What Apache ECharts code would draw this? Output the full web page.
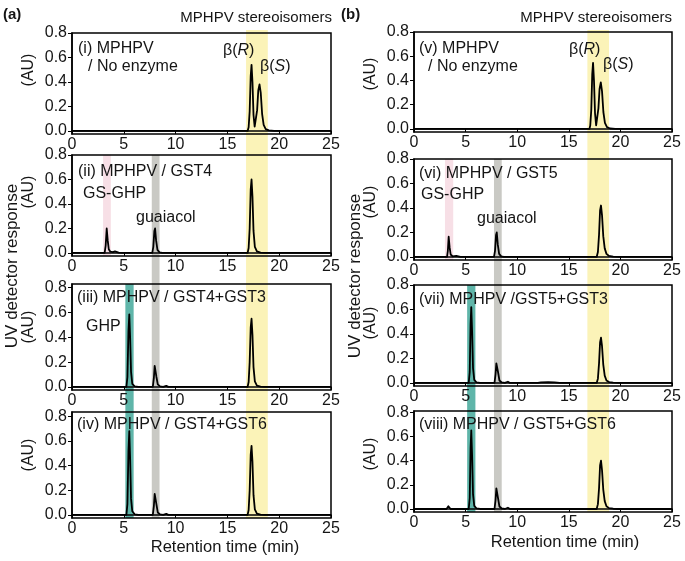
<!DOCTYPE html>
<html><head><meta charset="utf-8">
<script src="https://cdn.jsdelivr.net/npm/echarts@6/dist/echarts.min.js"></script>
<style>html,body{margin:0;padding:0;background:#fff}#c{width:685px;height:561px}</style>
</head><body><div id="c"></div>
<script>
// ---- data: retention time (min), UV response (AU) ----
const traceI = [[0,0],[3.2,0],[3.3,0.008],[3.45,0],[13.2,0],[13.35,0.005],[13.5,0],[16.95,0],[17.05,0.03],[17.15,0.16],[17.25,0.45],[17.33,0.54],[17.42,0.4],[17.52,0.13],[17.63,0.035],[17.75,0.04],[17.87,0.17],[17.98,0.33],[18.1,0.38],[18.22,0.31],[18.35,0.14],[18.5,0.05],[18.7,0.015],[19,0.004],[19.5,0],[22.1,0],[22.25,0.004],[22.4,0],[25,0]];
const traceII = [[0,0],[3.15,0],[3.25,0.06],[3.35,0.2],[3.45,0.1],[3.55,0.03],[3.7,0.01],[3.95,0.006],[4.15,0.013],[4.3,0.012],[4.5,0.003],[4.8,0],[7.75,0],[7.85,0.05],[7.95,0.18],[8.02,0.2],[8.12,0.1],[8.25,0.025],[8.45,0.005],[8.7,0],[13.2,0],[13.35,0.006],[13.5,0],[16.95,0],[17.05,0.04],[17.15,0.2],[17.25,0.52],[17.33,0.6],[17.42,0.46],[17.52,0.18],[17.65,0.05],[17.85,0.012],[18.2,0.003],[18.6,0],[25,0]];
const traceIII = [[0,0],[3.2,0],[3.3,0.005],[3.45,0],[5.25,0],[5.35,0.08],[5.45,0.45],[5.53,0.585],[5.61,0.4],[5.7,0.12],[5.82,0.025],[6.05,0.005],[6.4,0],[7.8,0],[7.9,0.07],[7.98,0.17],[8.05,0.175],[8.15,0.08],[8.28,0.02],[8.5,0.004],[8.8,0],[8.95,0.01],[9.1,0.008],[9.3,0],[13.2,0],[13.35,0.005],[13.5,0],[16.95,0],[17.05,0.04],[17.15,0.2],[17.25,0.48],[17.33,0.55],[17.42,0.42],[17.52,0.16],[17.65,0.045],[17.85,0.01],[18.2,0.002],[18.6,0],[25,0]];
const traceIV = [[0,0],[3.2,0],[3.3,0.005],[3.45,0],[5.25,0],[5.35,0.09],[5.45,0.52],[5.53,0.68],[5.61,0.46],[5.7,0.13],[5.82,0.03],[6.05,0.005],[6.4,0],[7.8,0],[7.9,0.07],[7.98,0.17],[8.05,0.18],[8.15,0.085],[8.28,0.02],[8.5,0.004],[8.8,0],[8.95,0.01],[9.1,0.008],[9.3,0],[13.2,0],[13.35,0.005],[13.5,0],[16.95,0],[17.05,0.04],[17.15,0.2],[17.25,0.49],[17.33,0.56],[17.42,0.43],[17.52,0.16],[17.65,0.045],[17.85,0.01],[18.2,0.002],[18.6,0],[25,0]];
const traceV = [[0,0],[3.25,0],[3.35,0.006],[3.5,0],[13.2,0],[13.35,0.004],[13.5,0],[17.0,0],[17.08,0.03],[17.18,0.16],[17.27,0.45],[17.35,0.545],[17.44,0.4],[17.54,0.13],[17.65,0.03],[17.76,0.04],[17.87,0.17],[17.98,0.33],[18.1,0.385],[18.22,0.31],[18.35,0.14],[18.5,0.05],[18.7,0.015],[19,0.004],[19.5,0],[22.1,0],[22.25,0.004],[22.4,0],[25,0]];
const traceVI = [[0,0],[3.2,0],[3.28,0.05],[3.36,0.165],[3.45,0.08],[3.55,0.02],[3.75,0.005],[4.1,0.008],[4.25,0.007],[4.5,0],[7.75,0],[7.85,0.05],[7.95,0.18],[8.02,0.2],[8.12,0.1],[8.25,0.025],[8.45,0.005],[8.7,0],[13.2,0],[13.35,0.005],[13.5,0],[17.7,0],[17.82,0.04],[17.93,0.18],[18.03,0.38],[18.12,0.42],[18.22,0.34],[18.34,0.17],[18.48,0.07],[18.65,0.025],[18.9,0.008],[19.3,0.002],[19.8,0],[25,0]];
const traceVII = [[0,0],[3.2,0],[3.3,0.006],[3.45,0],[4.2,0],[4.32,0.004],[4.45,0],[5.3,0],[5.4,0.09],[5.48,0.48],[5.55,0.62],[5.63,0.42],[5.72,0.12],[5.84,0.025],[6.05,0.005],[6.4,0],[7.8,0],[7.9,0.07],[7.98,0.16],[8.05,0.175],[8.15,0.085],[8.28,0.02],[8.5,0.004],[8.8,0],[8.95,0.012],[9.1,0.01],[9.3,0],[12.0,0],[12.3,0.005],[13.0,0.006],[13.6,0.005],[14.1,0],[17.7,0],[17.82,0.035],[17.93,0.16],[18.03,0.33],[18.12,0.37],[18.22,0.3],[18.34,0.15],[18.48,0.06],[18.65,0.02],[18.9,0.007],[19.3,0.002],[19.8,0],[20.3,0],[20.45,0.004],[20.6,0],[22.2,0],[22.35,0.006],[22.5,0],[25,0]];
const traceVIII = [[0,0],[3.15,0],[3.25,0.01],[3.33,0.022],[3.42,0.01],[3.55,0],[5.3,0],[5.4,0.09],[5.48,0.5],[5.55,0.65],[5.63,0.44],[5.72,0.12],[5.84,0.025],[6.05,0.005],[6.4,0],[7.8,0],[7.9,0.07],[7.98,0.17],[8.05,0.18],[8.15,0.085],[8.28,0.02],[8.5,0.004],[8.8,0],[8.95,0.012],[9.1,0.01],[9.3,0],[13.2,0],[13.35,0.005],[13.5,0],[17.7,0],[17.82,0.04],[17.93,0.17],[18.03,0.36],[18.12,0.4],[18.22,0.32],[18.34,0.16],[18.48,0.065],[18.65,0.022],[18.9,0.007],[19.3,0.002],[19.8,0],[25,0]];

// highlighted retention-time windows (min)
const bandYellowL = [16.8, 18.9], bandGrayL = [7.7, 8.45], bandTealL = [5.15, 5.95], bandPinkL = [3.0, 3.75];
const bandYellowR = [16.8, 18.9], bandGrayR = [7.75, 8.5], bandTealR = [5.15, 5.95], bandPinkR = [3.0, 3.8];

const yTickValues = [0, 0.2, 0.4, 0.6, 0.8];
const xRange = [0, 25];
const xInterval = 5;

const labelsLeft = ['(i) MPHPV', '(ii) MPHPV / GST4', '(iii) MPHPV / GST4+GST3', '(iv) MPHPV / GST4+GST6'];
const labelsRight = ['(v) MPHPV', '(vi) MPHPV / GST5', '(vii) MPHPV /GST5+GST3', '(viii) MPHPV / GST5+GST6'];

// ---- layout ----
const FONT = '"Liberation Sans", Arial, Helvetica, sans-serif';
const INK = '#151515';
const panels = [
  {trace: traceI,    left: 72,  width: 259, top: 33,  height: 101, max: 0.8},
  {trace: traceII,   left: 72,  width: 259, top: 155, height: 101, max: 0.8},
  {trace: traceIII,  left: 72,  width: 259, top: 284, height: 106, max: 0.83},
  {trace: traceIV,   left: 72,  width: 259, top: 412, height: 106, max: 0.835},
  {trace: traceV,    left: 414, width: 258, top: 32,  height: 100, max: 0.8},
  {trace: traceVI,   left: 414, width: 258, top: 159, height: 101, max: 0.8},
  {trace: traceVII,  left: 414, width: 258, top: 285, height: 101, max: 0.8},
  {trace: traceVIII, left: 414, width: 258, top: 411, height: 101, max: 0.81}
];
const bands = [
  {range: bandYellowL, color: '#fbf3b8', left: 72,  width: 259, top: 30,  bottom: 518},
  {range: bandGrayL,   color: '#c9c9c4', left: 72,  width: 259, top: 155, bottom: 518},
  {range: bandTealL,   color: '#5fb5a9', left: 72,  width: 259, top: 284, bottom: 518},
  {range: bandPinkL,   color: '#f7dfe6', left: 72,  width: 259, top: 155, bottom: 256},
  {range: bandYellowR, color: '#fbf3b8', left: 414, width: 258, top: 30,  bottom: 512},
  {range: bandGrayR,   color: '#c9c9c4', left: 414, width: 258, top: 159, bottom: 512},
  {range: bandTealR,   color: '#5fb5a9', left: 414, width: 258, top: 285, bottom: 512},
  {range: bandPinkR,   color: '#f7dfe6', left: 414, width: 258, top: 159, bottom: 260}
];

const grid = [], xAxis = [], yAxis = [], series = [];
panels.forEach((p, i) => {
  grid.push({left: p.left, width: p.width, top: p.top, height: p.height, show: true,
    borderColor: '#000', borderWidth: 1.5, backgroundColor: 'transparent', z: 3});
  xAxis.push({type: 'value', gridIndex: i, min: xRange[0], max: xRange[1], interval: xInterval, z: 6,
    axisLine: {show: true, lineStyle: {color: '#000', width: 1.5}},
    axisTick: {show: true, inside: false, length: 3, lineStyle: {color: '#000', width: 1}},
    axisLabel: {color: INK, fontSize: 16, fontFamily: FONT, margin: 3},
    splitLine: {show: false}});
  yAxis.push({type: 'value', gridIndex: i, min: -0.025, max: p.max, z: 6,
    axisLine: {show: true, lineStyle: {color: '#000', width: 1.5}},
    axisTick: {show: true, length: 4, customValues: yTickValues, lineStyle: {color: '#000', width: 1}},
    axisLabel: {color: INK, fontSize: 16, fontFamily: FONT, margin: 5, customValues: yTickValues,
      formatter: v => v.toFixed(1)},
    splitLine: {show: false}});
  series.push({type: 'line', xAxisIndex: i, yAxisIndex: i, data: p.trace, showSymbol: false,
    symbol: 'none', z: 5, lineStyle: {color: '#000', width: 1.8, join: 'round'}, silent: true});
});
bands.forEach((b, j) => {
  const gi = panels.length + j;
  grid.push({left: b.left, width: b.width, top: b.top, height: b.bottom - b.top, show: false});
  xAxis.push({type: 'value', gridIndex: gi, min: xRange[0], max: xRange[1], show: false});
  yAxis.push({type: 'value', gridIndex: gi, min: 0, max: 1, show: false});
  series.push({type: 'line', xAxisIndex: gi, yAxisIndex: gi, data: [], z: 1, silent: true,
    markArea: {silent: true, itemStyle: {color: b.color, opacity: 1},
      data: [[{xAxis: b.range[0]}, {xAxis: b.range[1]}]]}});
});

function txt(x, y, text, o) {
  o = o || {};
  const st = {text: text, fill: INK, font: (o.weight || 'normal') + ' ' + (o.size || 16) + 'px ' + FONT,
    align: o.align || 'left', verticalAlign: 'middle'};
  if (o.rich) st.rich = o.rich;
  return {type: 'text', x: x, y: y, z: 100, rotation: o.rot || 0, silent: true, style: st};
}
const betaRich = {n: {fontSize: 16, fontFamily: FONT, color: INK}, i: {fontSize: 16, fontFamily: FONT, fontStyle: 'italic', color: INK}};
const graphic = [
  txt(3, 15, '(a)', {weight: 'bold', size: 15}),
  txt(341, 15, '(b)', {weight: 'bold', size: 15}),
  txt(332, 18, 'MPHPV stereoisomers', {align: 'right', size: 15}),
  txt(672, 18, 'MPHPV stereoisomers', {align: 'right', size: 15}),
  txt(78, 49, labelsLeft[0]), txt(88, 67, '/ No enzyme'),
  txt(223, 51, '{n|β(}{i|R}{n|)}', {rich: betaRich}),
  txt(260, 67, '{n|β(}{i|S}{n|)}', {rich: betaRich}),
  txt(78, 172, labelsLeft[1]), txt(83, 194, 'GS-GHP'), txt(136, 218, 'guaiacol'),
  txt(77, 298, labelsLeft[2]), txt(86, 327, 'GHP'),
  txt(77, 425, labelsLeft[3]),
  txt(419, 49, labelsRight[0]), txt(428, 67, '/ No enzyme'),
  txt(569, 50, '{n|β(}{i|R}{n|)}', {rich: betaRich}),
  txt(603, 65, '{n|β(}{i|S}{n|)}', {rich: betaRich}),
  txt(419, 174, labelsRight[1]), txt(421, 195, 'GS-GHP'), txt(477, 219, 'guaiacol'),
  txt(419, 300, labelsRight[2]),
  txt(419, 425, labelsRight[3]),
  txt(225, 547, 'Retention time (min)', {align: 'center', size: 16.5}),
  txt(565, 542, 'Retention time (min)', {align: 'center', size: 16.5}),
  txt(12, 266, 'UV detector response', {align: 'center', size: 17, rot: Math.PI / 2}),
  txt(355, 276, 'UV detector response', {align: 'center', size: 17, rot: Math.PI / 2}),
  txt(29, 70, '(AU)', {align: 'center', rot: Math.PI / 2}),
  txt(29, 192, '(AU)', {align: 'center', rot: Math.PI / 2}),
  txt(29, 327, '(AU)', {align: 'center', rot: Math.PI / 2}),
  txt(29, 455, '(AU)', {align: 'center', rot: Math.PI / 2}),
  txt(371, 74, '(AU)', {align: 'center', rot: Math.PI / 2}),
  txt(371, 202, '(AU)', {align: 'center', rot: Math.PI / 2}),
  txt(371, 323, '(AU)', {align: 'center', rot: Math.PI / 2}),
  txt(371, 454, '(AU)', {align: 'center', rot: Math.PI / 2})
];

const chart = echarts.init(document.getElementById('c'), null, {renderer: 'canvas'});
chart.setOption({animation: false, backgroundColor: '#fff', grid, xAxis, yAxis, series, graphic});
</script></body></html>
